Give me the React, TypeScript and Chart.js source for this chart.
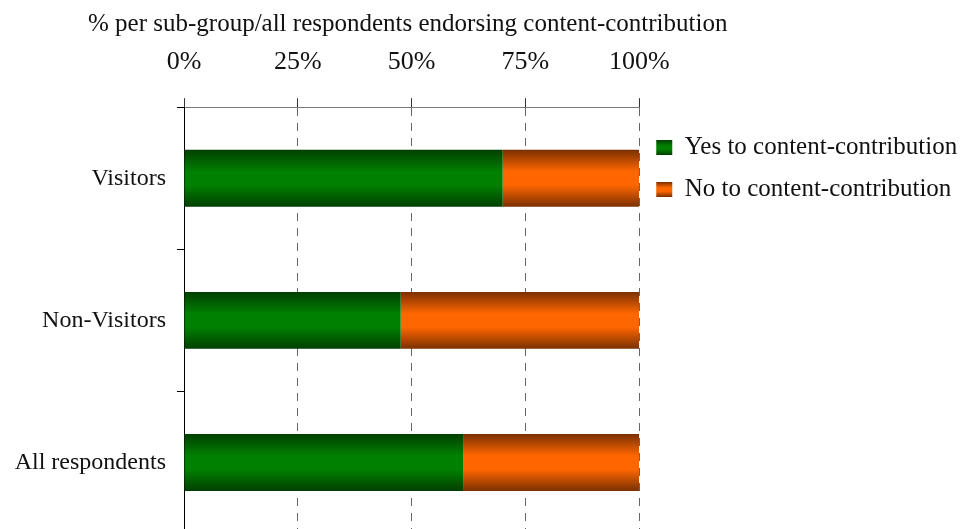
import React, { useEffect, useRef } from "react";
import { Chart, registerables } from "chart.js";

Chart.register(...registerables);

const categories = ["Visitors", "Non-Visitors", "All respondents"];
const yesValues = [70, 47.6, 61.3];
const noValues = [30, 52.4, 38.7];
const seriesNames = ["Yes to content-contribution", "No to content-contribution"];
const xTicks = [0, 25, 50, 75, 100];
const axisTitle = "% per sub-group/all respondents endorsing content-contribution";

const FONT = "'Liberation Serif', 'DejaVu Serif', serif";
const CAT_PCT = 0.8;
const BAR_PCT = 0.5;

const palettes = [
  { dark: "#003f00", bright: "#008000" },
  { dark: "#7a3000", bright: "#ff6600" },
];

function makeGradient(ctx: CanvasRenderingContext2D, top: number, bottom: number, p: { dark: string; bright: string }) {
  const g = ctx.createLinearGradient(0, top, 0, bottom);
  g.addColorStop(0, p.dark);
  g.addColorStop(0.38, p.bright);
  g.addColorStop(0.62, p.bright);
  g.addColorStop(1, p.dark);
  return g;
}

function barColor(pi: number) {
  return (c: any) => {
    const p = palettes[pi];
    if (c.type !== "data") return p.bright;
    const chart = c.chart;
    const y = chart.scales?.y;
    if (!y || !chart.chartArea) return p.bright;
    const center = y.getPixelForValue(c.dataIndex);
    const band = y.height / categories.length;
    const h = band * CAT_PCT * BAR_PCT;
    return makeGradient(chart.ctx, center - h / 2, center + h / 2, p);
  };
}

const layoutFixPlugin = {
  id: "layoutFix",
  beforeDraw(chart: any) {
    // let y labels extend into the left padding without being clipped
    const ys = chart.scales?.y;
    if (ys) ys.left = 0;
    const lg = chart.legend;
    if (!lg || !lg.legendItems || !lg.legendHitBoxes) return;
    // let the legend text run to the canvas edge instead of being clipped
    lg.right = chart.width;
    lg.width = chart.width - lg.left;
    const boxH = lg.options.labels.boxHeight || 15;
    lg.legendItems.forEach((item: any, i: number) => {
      const hb = lg.legendHitBoxes[i];
      if (!hb) return;
      const cy = hb.top + hb.height / 2;
      item.fillStyle = makeGradient(chart.ctx, cy - boxH / 2, cy + boxH / 2, palettes[item.datasetIndex]);
    });
  },
};

export default function App() {
  const ref = useRef<HTMLCanvasElement | null>(null);

  useEffect(() => {
    document.body.style.margin = "0";
    const canvas = ref.current;
    if (!canvas) return;
    const chart = new Chart(canvas, {
      type: "bar",
      data: {
        labels: categories,
        datasets: [
          {
            label: seriesNames[0],
            data: yesValues,
            backgroundColor: barColor(0),
            borderWidth: 0,
            categoryPercentage: CAT_PCT,
            barPercentage: BAR_PCT,
          },
          {
            label: seriesNames[1],
            data: noValues,
            backgroundColor: barColor(1),
            borderWidth: 0,
            categoryPercentage: CAT_PCT,
            barPercentage: BAR_PCT,
          },
        ],
      },
      options: {
        indexAxis: "y",
        animation: false,
        responsive: false,
        maintainAspectRatio: false,
        layout: { padding: { left: 88, right: 138, top: 6, bottom: 3 } },
        scales: {
          x: {
            position: "top",
            stacked: true,
            min: 0,
            max: 100,
            afterBuildTicks: (s: any) => {
              s.ticks = xTicks.map((v) => ({ value: v }));
            },
            ticks: {
              callback: (v: any) => v + "%",
              color: "#111",
              font: { family: FONT, size: 26 },
              padding: 20,
              maxRotation: 0,
            },
            grid: {
              color: "#666",
              lineWidth: 1,
              tickBorderDash: [],
              tickLength: 9,
              tickColor: "#333",
            } as any,
            border: { display: true, color: "#777", width: 1, dash: [8, 7] } as any,
          },
          y: {
            stacked: true,
            afterFit: (s: any) => {
              s.width = 96;
            },
            ticks: {
              color: "#111",
              font: { family: FONT, size: 24 },
              padding: 11,
            },
            grid: {
              drawOnChartArea: false,
              tickLength: 7,
              color: "#000",
            },
            border: { display: true, color: "#000", width: 1 },
          },
        },
        plugins: {
          title: {
            display: true,
            text: axisTitle,
            align: "start",
            color: "#111",
            font: { family: FONT, size: 25, weight: "normal", lineHeight: "6px" } as any,
            padding: { top: 15, bottom: 0 },
          },
          legend: {
            position: "right",
            align: "start",
            title: { display: true, text: "", font: { size: 1, lineHeight: 1 }, padding: { top: 111, bottom: 0 } } as any,
            labels: {
              color: "#111",
              font: { family: FONT, size: 25 },
              boxWidth: 16,
              boxHeight: 15,
              padding: 17,
            },
          },
          tooltip: { enabled: false },
        },
      },
      plugins: [layoutFixPlugin],
    });
    return () => chart.destroy();
  }, []);

  return (
    <div style={{ position: "fixed", left: 0, top: 0, width: 961, height: 529, overflow: "hidden", background: "#fff" }}>
      <canvas ref={ref} width={961} height={559} style={{ display: "block" }} />
    </div>
  );
}
